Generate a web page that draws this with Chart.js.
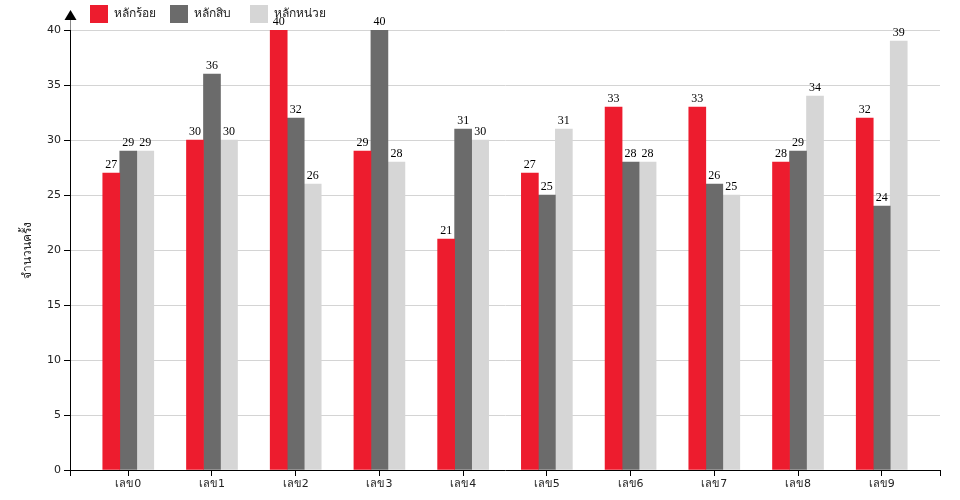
<!DOCTYPE html>
<html>
<head>
<meta charset="utf-8">
<script src="https://cdn.jsdelivr.net/npm/chart.js@4"></script>
<style>
  html, body { margin: 0; padding: 0; background: #fff; }
  #wrap { position: relative; width: 960px; height: 500px; }
</style>
</head>
<body>
<div id="wrap"><canvas id="chart"></canvas></div>
<script>
const categories = ['เลข0', 'เลข1', 'เลข2', 'เลข3', 'เลข4', 'เลข5', 'เลข6', 'เลข7', 'เลข8', 'เลข9'];
const seriesNames = ['หลักร้อย', 'หลักสิบ', 'หลักหน่วย'];
const hundreds = [27, 30, 40, 29, 21, 27, 33, 33, 28, 32];
const tens = [29, 36, 32, 40, 31, 25, 28, 26, 29, 24];
const units = [29, 30, 26, 28, 30, 31, 28, 25, 34, 39];
const yTicks = [0, 5, 10, 15, 20, 25, 30, 35, 40];
const yTitle = 'จำนวนครั้ง';

const colors = ['#ed1c2e', '#6b6b6b', '#d6d6d6'];
const sans = '"DejaVu Sans", "Noto Sans", sans-serif';
const serif = '"Liberation Serif", "DejaVu Serif", serif';
const edge = 0.696; // outer padding of the band, in steps

const toPoints = arr => arr.map((v, i) => ({ x: i, y: v }));

// value labels above the bars + legend + y axis arrow
const decorations = {
  id: 'decorations',
  afterDatasetsDraw(chart) {
    const { ctx, chartArea } = chart;
    ctx.save();
    ctx.font = '12px ' + serif;
    ctx.fillStyle = '#000';
    ctx.textAlign = 'center';
    ctx.textBaseline = 'alphabetic';
    chart.data.datasets.forEach((ds, di) => {
      chart.getDatasetMeta(di).data.forEach((bar, i) => {
        ctx.fillText(String(ds.data[i].y), bar.x, bar.y - 5);
      });
    });

    // axis extension and arrow
    const x0 = chartArea.left;
    ctx.strokeStyle = '#888';
    ctx.lineWidth = 1;
    ctx.beginPath();
    ctx.moveTo(x0 + 0.5, chartArea.top);
    ctx.lineTo(x0 + 0.5, 19);
    ctx.stroke();
    ctx.fillStyle = '#000';
    ctx.beginPath();
    ctx.moveTo(x0 + 0.5, 10);
    ctx.lineTo(x0 + 6.5, 20);
    ctx.lineTo(x0 - 5.5, 20);
    ctx.closePath();
    ctx.fill();

    // legend
    ctx.font = '12px ' + sans;
    ctx.textAlign = 'left';
    ctx.textBaseline = 'middle';
    seriesNames.forEach((name, i) => {
      const lx = 90 + i * 80;
      ctx.fillStyle = colors[i];
      ctx.fillRect(lx, 5, 18, 18);
      ctx.fillStyle = '#222';
      ctx.fillText(name, lx + 24, 14);
    });
    ctx.restore();
  }
};

new Chart(document.getElementById('chart'), {
  type: 'bar',
  data: {
    datasets: [
      { label: seriesNames[0], data: toPoints(hundreds), backgroundColor: colors[0] },
      { label: seriesNames[1], data: toPoints(tens), backgroundColor: colors[1] },
      { label: seriesNames[2], data: toPoints(units), backgroundColor: colors[2] }
    ]
  },
  options: {
    responsive: true,
    maintainAspectRatio: false,
    animation: false,
    layout: { padding: { left: 0, right: 20, top: 30, bottom: 0 } },
    datasets: { bar: { barThickness: 17 } },
    plugins: { legend: { display: false }, tooltip: { enabled: false } },
    scales: {
      x: {
        type: 'linear',
        offset: false,
        min: -edge,
        max: 9 + edge,
        afterBuildTicks: axis => {
          axis.ticks = [-edge].concat(categories.map((c, i) => i), [9 + edge]).map(v => ({ value: v }));
        },
        afterFit: axis => { axis.height = 30; },
        ticks: {
          autoSkip: false,
          maxRotation: 0,
          padding: 2,
          color: '#222',
          font: { family: sans, size: 11 },
          callback: v => Number.isInteger(v) ? categories[v] : ''
        },
        grid: { offset: false, drawOnChartArea: false, tickLength: 6, color: '#000' },
        border: { color: '#000' }
      },
      y: {
        min: 0,
        max: 40,
        afterBuildTicks: axis => { axis.ticks = yTicks.map(v => ({ value: v })); },
        afterFit: axis => { axis.width = 70; },
        ticks: { padding: 3, color: '#222', font: { family: sans, size: 11 } },
        grid: {
          color: '#d4d4d4',
          tickColor: '#000',
          tickLength: 6,
          drawTicks: true
        },
        border: { color: '#000' },
        title: {
          display: true,
          text: yTitle,
          color: '#222',
          font: { family: sans, size: 12 },
          padding: { top: 21, bottom: 0 }
        }
      }
    }
  },
  plugins: [decorations]
});
</script>
</body>
</html>
